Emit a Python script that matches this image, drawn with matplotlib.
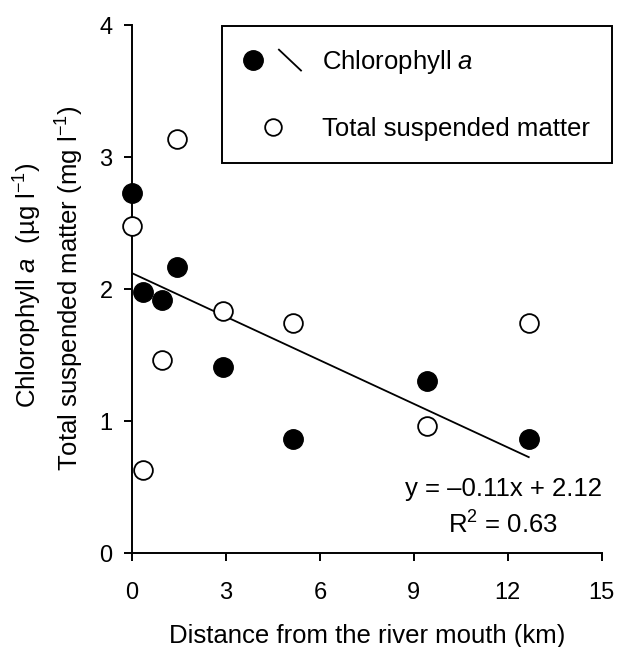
import numpy as np
import matplotlib.pyplot as plt
from matplotlib.lines import Line2D
from matplotlib.legend_handler import HandlerBase

plt.rcParams['font.family'] = ['Liberation Sans', 'DejaVu Sans']
plt.rcParams['mathtext.fontset'] = 'custom'
plt.rcParams['mathtext.rm'] = 'Liberation Sans'
plt.rcParams['mathtext.it'] = 'Liberation Sans:italic'

# chlorophyll a (filled circles)
chl_x = [0.0, 0.36, 0.97, 1.43, 2.92, 5.13, 9.42, 12.67]
chl_y = [2.73, 1.98, 1.92, 2.17, 1.41, 0.86, 1.30, 0.86]
# total suspended matter (open circles)
tsm_x = [0.0, 0.36, 0.95, 1.44, 2.92, 5.13, 9.42, 12.67]
tsm_y = [2.48, 0.63, 1.46, 3.14, 1.83, 1.74, 0.96, 1.745]
# regression for chlorophyll a
slope, intercept = -0.11, 2.12
r2 = 0.63
xticks = [0, 3, 6, 9, 12, 15]
yticks = [0, 1, 2, 3, 4]

W, H = 617, 647
FS = 18.5


class DotSlash(HandlerBase):
    def create_artists(self, legend, orig_handle, xdescent, ydescent,
                       width, height, fontsize, trans):
        x0, y0 = -xdescent, -ydescent
        cy = y0 + height / 2
        dot = Line2D([x0 + 0.15 * width], [cy], marker='o', color='black',
                     markersize=orig_handle.get_markersize(), linestyle='none')
        slash = Line2D([x0 + 0.6 * width, x0 + 0.98 * width], [cy + 7.5, cy - 7.5],
                       color='black', lw=1.3)
        dot.set_transform(trans)
        slash.set_transform(trans)
        return [dot, slash]


fig = plt.figure(figsize=(W / 100, H / 100), dpi=100)
ax = fig.add_axes([132 / W, 1 - 553 / H, (601.7 - 132) / W, (553 - 25) / H])

ax.plot(chl_x, chl_y, 'o', color='black', markersize=14, clip_on=False, zorder=3)
ax.plot(tsm_x, tsm_y, 'o', mfc='white', mec='black', mew=1.3, markersize=13.5,
        clip_on=False, zorder=3)
lx = np.array([0, max(chl_x)])
ax.plot(lx, intercept + slope * lx, color='black', lw=1.3)

ax.text(11.86, 0.485, 'y = \u20130.11x + 2.12', ha='center', va='center', fontsize=FS)
ax.text(11.86, 0.215, f'R$^2$ = {r2:.2f}', ha='center', va='center', fontsize=FS)

ax.set_xlim(0, 15)
ax.set_ylim(0, 4)
ax.set_xticks(xticks)
ax.set_yticks(yticks)
ax.tick_params(direction='out', length=6, width=1.4, labelsize=17)
ax.tick_params(axis='x', pad=15)
ax.tick_params(axis='y', pad=8)
for s in ['top', 'right']:
    ax.spines[s].set_visible(False)
for s in ['left', 'bottom']:
    ax.spines[s].set_linewidth(1.4)

ax.set_xlabel('Distance from the river mouth (km)', fontsize=FS, labelpad=14)
fig.text(28 / W, 1 - 285 / H, 'Chlorophyll $\\it{a}$  (\u00b5g l$^{-1}$)',
         rotation=90, ha='center', va='center', fontsize=FS)
fig.text(70 / W, 1 - 288 / H, 'Total suspended matter (mg l$^{-1}$)',
         rotation=90, ha='center', va='center', fontsize=FS)

h1 = Line2D([], [], marker='o', color='black', markersize=14, linestyle='none')
h2 = Line2D([], [], marker='o', mfc='white', mec='black', mew=1.3,
            markersize=12, linestyle='none')
leg = ax.legend([h1, h2], ['Chlorophyll $\\it{a}$', 'Total suspended matter'],
                handler_map={h1: DotSlash()},
                loc='upper left', bbox_to_anchor=(222 / W, 1 - 26 / H),
                bbox_transform=fig.transFigure, borderaxespad=0,
                fontsize=FS, handlelength=2.26, handletextpad=0.78,
                labelspacing=1.6, borderpad=0.86, fancybox=False,
                framealpha=1, edgecolor='black')
leg.get_frame().set_linewidth(1.4)

fig.savefig('out.png', dpi=100)
